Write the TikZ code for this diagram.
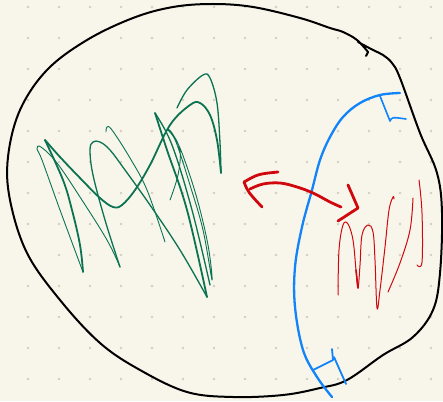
\documentclass[tikz,border=0pt]{standalone}
\usepackage{tikz}
\definecolor{paper}{HTML}{F8F6EB}
\definecolor{dotc}{HTML}{D2CEC2}
\definecolor{inkgreen}{HTML}{0B7352}
\definecolor{inkblue}{HTML}{1284FA}
\definecolor{inkred}{HTML}{D0080E}
\begin{document}
\begin{tikzpicture}[x=1pt,y=-1pt,line cap=round,line join=round,
  outline/.style={draw=black,line width=2pt},
  bluepen/.style={draw=inkblue,line width=2.3pt},
  redpen/.style={draw=inkred,line width=2.8pt},
  redthin/.style={draw=inkred,line width=1pt},
  grn/.style={draw=inkgreen,line width=1.8pt},
  grnmid/.style={draw=inkgreen,line width=1.3pt},
  grnthin/.style={draw=inkgreen,line width=0.9pt}]
\fill[paper] (0,0) rectangle (443,401);
\useasboundingbox (0,0) rectangle (443,401);
% dot grid
\foreach \gx in {28,59,...,431}
  \foreach \gy in {7,38,...,379}
    \fill[dotc] (\gx,\gy) circle (1.3pt);
% black outline
\draw[outline] plot[smooth,tension=0.6] coordinates {(358,42) (373,50) (383,55) (392,63) (400,78)
  (420,133) (437,173) (442,213) (440,273) (433,310) (413,337) (383,355) (347,380)
  (320,388) (283,395) (233,397) (187,392) (140,370) (100,343) (60,300) (27,253)
  (10,200) (8,157) (20,110) (47,70) (87,40) (133,18) (173,7) (213,4) (253,7)
  (300,18) (330,28) (343,32) (357,40) (368,52)} -- (366,56);
% blue line
\draw[bluepen] plot[smooth,tension=0.6] coordinates {(400,93) (380,95) (360,103) (343,117)
  (330,137) (320,160) (312,190) (302,227) (295,267) (295,307) (303,350) (317,377) (332,397)};
\draw[bluepen,line width=1.6pt] (380,96) -- (390,121) .. controls (392,117) .. (406,119);
\draw[bluepen,line width=1.8pt] (313,370) -- (333,360) -- (332,349);
\draw[bluepen,line width=1.8pt] (334,357) -- (346,384);
% red arrow
\draw[redpen] plot[smooth,tension=0.6] coordinates {(341,207) (330,202) (313,193) (297,187)
  (280,183) (263,184) (250,189)};
\draw[redpen] (278,172) .. controls (258,174) .. (244,182) .. controls (248,192) .. (262,207);
\draw[redpen] (348,185) -- (358,208) -- (338,221);
% red scribbles
\draw[redthin] plot[smooth,tension=0.6] coordinates {(338,295) (339,250) (343,225) (348,224)
  (353,240) (356,270) (358,288) (360,265) (362,235) (368,225) (373,232) (375,260)
  (377,308) (380,290) (385,247) (389,210) (393,197) (394,199)};
\draw[redthin,line width=1.6pt] (356,270) -- (358,288);
\draw[redthin] plot[smooth,tension=0.6] coordinates {(388,292) (400,263) (410,230) (413,198)};
\draw[redthin] plot[smooth,tension=0.6] coordinates {(419,180) (422,213) (422,262) (417,265)};
% green scribbles
\draw[grnthin] plot[smooth,tension=0.6] coordinates {(83,272) (60,210) (42,160) (37,149)
  (41,147) (57,163) (80,197) (107,240) (120,267)};
\draw[grn] plot[smooth,tension=0.6] coordinates {(83,272) (80,245) (72,210) (63,180) (45,140)};
\draw[grn] plot[smooth,tension=0.6] coordinates {(45,140) (60,157) (80,178) (100,198) (113,207)
  (122,205) (135,190) (150,165) (170,125) (190,105) (200,103) (210,115) (217,140) (221,173)};
\draw[grnmid] plot[smooth,tension=0.6] coordinates {(120,267) (105,220) (93,175) (90,150)
  (93,142) (100,142) (110,150) (125,170) (150,205) (180,250) (207,297)};
\draw[grnthin] plot[smooth,tension=0.6] coordinates {(106,132) (107,127) (112,130) (130,158)
  (147,190) (165,242)};
\draw[grnmid] plot[smooth,tension=0.6] coordinates {(177,108) (187,90) (203,75) (210,78)
  (217,103) (220,143) (221,173)};
\draw[grn] plot[smooth,tension=0.6] coordinates {(155,113) (167,150) (187,210) (207,297)};
\draw[grnmid] plot[smooth,tension=0.6] coordinates {(155,113) (172,145) (192,210) (210,285)};
\draw[grnthin] plot[smooth,tension=0.6] coordinates {(170,200) (178,175) (180,150) (172,133)
  (168,130) (176,142) (190,185) (203,230) (212,280) (208,245) (196,195) (180,148) (170,132)};
\end{tikzpicture}
\end{document}
